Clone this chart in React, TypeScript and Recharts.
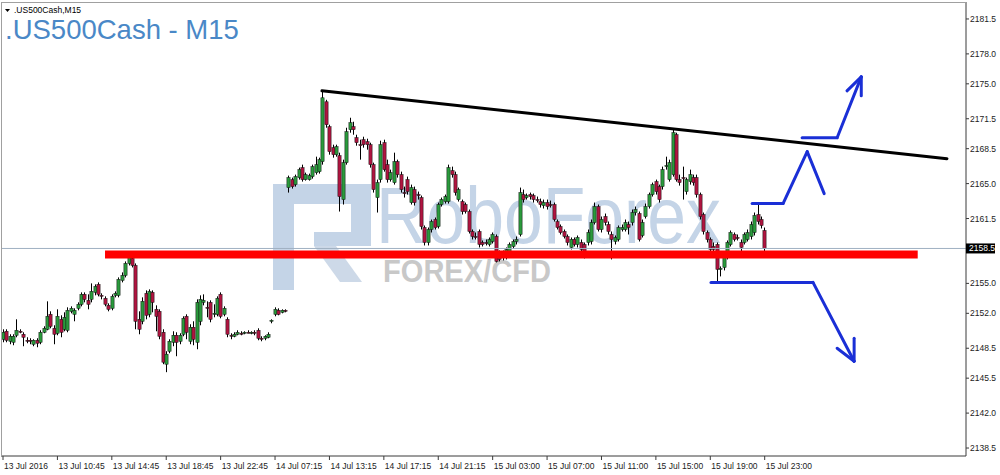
import { Bar, ComposedChart, ReferenceLine, XAxis, YAxis } from "recharts";

type Ohlc = [number, number, number, number]; // open, high, low, close

// 13 Jul 2016 session (M15 bars)
const jul13: Ohlc[] = [
  [2149.4, 2150.4, 2149.1, 2150.1], [2150.2, 2150.4, 2149.1, 2149.3], [2149.2, 2149.9, 2148.9, 2149.7],
  [2149.1, 2149.9, 2148.8, 2149.7], [2149.8, 2151.4, 2149.6, 2150.3], [2150.2, 2150.4, 2150.0, 2150.1],
  [2149.9, 2150.1, 2148.7, 2149.6], [2149.3, 2149.6, 2149.0, 2149.2], [2149.3, 2149.5, 2148.9, 2149.2],
  [2148.9, 2149.4, 2148.7, 2149.3], [2149.3, 2149.5, 2148.6, 2149.0], [2149.1, 2150.3, 2148.9, 2150.1],
  [2150.1, 2150.7, 2150.0, 2150.5], [2150.4, 2153.2, 2150.3, 2151.7], [2151.9, 2152.2, 2150.5, 2150.7],
  [2150.5, 2150.8, 2148.9, 2149.9], [2150.0, 2152.4, 2149.8, 2151.7], [2151.4, 2151.8, 2149.6, 2150.1],
  [2150.4, 2152.1, 2150.2, 2151.6], [2150.3, 2152.6, 2150.1, 2152.3], [2152.2, 2152.7, 2152.0, 2152.5],
  [2151.9, 2152.5, 2151.2, 2152.3], [2152.5, 2153.1, 2152.3, 2152.9], [2152.9, 2154.1, 2152.7, 2153.9],
  [2153.9, 2154.1, 2153.1, 2153.4], [2153.3, 2153.9, 2152.4, 2152.9], [2153.4, 2155.0, 2153.1, 2154.2],
  [2154.1, 2154.9, 2153.8, 2154.7], [2154.9, 2155.1, 2153.7, 2153.9], [2153.8, 2154.0, 2153.4, 2153.7],
  [2153.5, 2153.7, 2152.7, 2152.9], [2152.8, 2153.0, 2152.2, 2152.4], [2152.5, 2153.9, 2152.3, 2153.7],
  [2153.8, 2154.2, 2153.6, 2154.0], [2153.8, 2155.6, 2153.6, 2155.4], [2155.3, 2156.1, 2155.1, 2155.8],
  [2155.8, 2157.2, 2155.6, 2157.0], [2157.0, 2158.1, 2156.8, 2157.6], [2157.5, 2157.8, 2156.6, 2156.8],
  [2156.8, 2157.0, 2150.4, 2151.2], [2151.4, 2152.2, 2149.9, 2150.4], [2151.2, 2153.6, 2150.9, 2153.2],
  [2154.0, 2154.3, 2151.4, 2151.8], [2151.9, 2154.4, 2151.6, 2154.2], [2154.1, 2154.3, 2152.1, 2153.1],
  [2152.4, 2152.8, 2150.2, 2151.7], [2152.2, 2152.4, 2149.4, 2149.7], [2150.1, 2150.4, 2146.9, 2147.1],
  [2146.9, 2148.2, 2146.1, 2147.9], [2148.2, 2149.4, 2148.0, 2149.2], [2149.1, 2150.2, 2148.7, 2149.8],
  [2149.8, 2150.1, 2147.7, 2149.1], [2149.2, 2150.0, 2148.9, 2149.8], [2149.9, 2151.7, 2149.7, 2151.5],
  [2151.7, 2151.9, 2149.4, 2150.1], [2149.2, 2150.9, 2148.9, 2150.6], [2150.6, 2151.2, 2148.8, 2149.4],
  [2149.1, 2153.4, 2148.4, 2153.1], [2151.2, 2153.8, 2150.8, 2153.4], [2153.1, 2153.9, 2152.8, 2153.3],
  [2152.6, 2153.2, 2151.6, 2152.5], [2153.1, 2153.3, 2151.1, 2151.4], [2151.9, 2152.9, 2151.6, 2152.0],
  [2151.9, 2153.7, 2151.7, 2153.5], [2153.9, 2154.1, 2151.5, 2151.7], [2151.9, 2152.7, 2151.7, 2152.5],
  [2151.4, 2151.6, 2149.6, 2149.9],
];

// 14 Jul 2016 session
const jul14: Ohlc[] = [
  [2149.8, 2150.0, 2149.4, 2149.7], [2149.7, 2150.1, 2149.6, 2149.9], [2149.9, 2150.3, 2149.8, 2150.1],
  [2150.0, 2150.2, 2149.8, 2149.9], [2150.0, 2150.2, 2149.9, 2150.1], [2150.1, 2150.3, 2150.0, 2150.0],
  [2150.0, 2150.2, 2149.9, 2150.1], [2150.1, 2150.3, 2149.8, 2150.0], [2150.3, 2150.5, 2149.3, 2149.5],
  [2149.5, 2149.7, 2149.2, 2149.4], [2149.5, 2149.8, 2149.3, 2149.7], [2149.6, 2150.1, 2149.5, 2149.9],
  [2151.2, 2151.4, 2151.0, 2151.3], [2151.9, 2152.6, 2151.7, 2152.4], [2152.3, 2152.5, 2151.8, 2151.9],
  [2152.1, 2152.4, 2152.0, 2152.3], [2152.3, 2152.4, 2152.1, 2152.2],
  [2164.6, 2165.8, 2164.1, 2165.6], [2165.4, 2165.6, 2164.5, 2164.7], [2164.9, 2165.9, 2164.7, 2165.7],
  [2165.6, 2166.6, 2165.4, 2166.4], [2166.6, 2166.9, 2165.2, 2165.4], [2165.4, 2166.1, 2165.3, 2165.9],
  [2165.4, 2166.0, 2165.3, 2165.8], [2165.7, 2166.9, 2165.5, 2166.7], [2166.1, 2167.7, 2165.9, 2166.9],
  [2166.2, 2167.6, 2166.0, 2167.4], [2167.2, 2174.2, 2166.9, 2173.6], [2173.2, 2173.4, 2170.6, 2170.9],
  [2170.7, 2170.9, 2167.9, 2168.2], [2168.6, 2168.9, 2167.6, 2167.9], [2167.9, 2168.9, 2167.7, 2168.7],
  [2167.8, 2168.1, 2162.2, 2163.7], [2163.4, 2167.4, 2162.9, 2167.1], [2167.1, 2170.6, 2166.9, 2170.2],
  [2170.4, 2171.6, 2170.1, 2171.1], [2170.7, 2171.2, 2169.9, 2170.4], [2169.6, 2169.9, 2168.8, 2169.1],
  [2168.9, 2169.4, 2167.4, 2168.8], [2169.4, 2169.7, 2168.6, 2168.9], [2169.2, 2169.5, 2168.4, 2168.9],
  [2168.9, 2169.1, 2166.6, 2166.9], [2166.9, 2167.1, 2164.1, 2164.4], [2163.6, 2165.4, 2162.1, 2165.1],
  [2165.4, 2169.3, 2165.1, 2168.9], [2169.1, 2169.4, 2166.2, 2166.4], [2166.9, 2167.4, 2165.1, 2165.4],
  [2165.4, 2166.4, 2165.2, 2166.1], [2165.1, 2168.1, 2164.9, 2167.2], [2167.2, 2167.4, 2165.6, 2165.9],
  [2165.9, 2166.2, 2164.1, 2164.4], [2164.1, 2164.7, 2163.6, 2164.0], [2165.4, 2165.7, 2163.9, 2164.2],
  [2163.1, 2164.9, 2162.9, 2164.6], [2164.4, 2164.7, 2162.8, 2163.1], [2163.9, 2164.2, 2163.4, 2163.8],
  [2163.6, 2163.8, 2160.4, 2160.7], [2160.6, 2160.8, 2158.8, 2159.1], [2159.1, 2160.6, 2158.8, 2160.4],
  [2160.4, 2161.4, 2160.1, 2161.2], [2161.4, 2161.6, 2160.4, 2160.6], [2160.7, 2163.1, 2160.5, 2162.9],
  [2162.9, 2163.6, 2162.7, 2163.4], [2163.2, 2163.9, 2163.0, 2163.7], [2163.2, 2166.9, 2163.0, 2166.6],
  [2166.3, 2166.7, 2165.6, 2165.9], [2165.9, 2166.2, 2163.8, 2164.1], [2163.4, 2164.6, 2163.2, 2164.4],
  [2163.2, 2163.4, 2161.9, 2162.2], [2162.9, 2163.1, 2162.0, 2162.2],
];

// 15 Jul 2016 session
const jul15: Ohlc[] = [
  [2162.2, 2162.4, 2160.0, 2160.2], [2160.2, 2160.4, 2159.4, 2159.7], [2159.7, 2160.1, 2159.4, 2159.6],
  [2160.2, 2160.4, 2158.6, 2158.9], [2159.1, 2159.3, 2158.7, 2158.9], [2159.1, 2159.4, 2158.8, 2159.0],
  [2158.9, 2159.6, 2158.7, 2159.4], [2159.2, 2160.1, 2159.0, 2159.9], [2159.7, 2159.9, 2157.1, 2157.2],
  [2158.1, 2158.3, 2157.2, 2157.4], [2157.6, 2158.3, 2157.3, 2158.1], [2157.6, 2158.6, 2157.4, 2158.4],
  [2158.2, 2159.1, 2158.0, 2158.9], [2158.7, 2159.4, 2158.5, 2159.2], [2159.2, 2159.7, 2158.9, 2159.4],
  [2159.9, 2164.6, 2159.7, 2164.1], [2163.9, 2164.4, 2163.1, 2163.4], [2163.6, 2164.0, 2163.4, 2163.8],
  [2163.9, 2164.1, 2163.4, 2163.7], [2163.8, 2164.0, 2163.1, 2163.4], [2163.4, 2163.7, 2163.1, 2163.3],
  [2163.2, 2163.5, 2162.6, 2162.9], [2162.8, 2163.4, 2162.5, 2163.1], [2163.1, 2163.4, 2162.4, 2162.7],
  [2162.9, 2163.3, 2162.6, 2162.8], [2162.9, 2163.1, 2161.2, 2161.4], [2161.2, 2161.4, 2160.4, 2160.6],
  [2160.7, 2160.9, 2159.9, 2160.1], [2160.2, 2160.4, 2159.5, 2159.7], [2159.7, 2159.9, 2158.8, 2159.1],
  [2158.6, 2159.6, 2158.4, 2159.4], [2159.4, 2159.6, 2158.7, 2158.9], [2158.9, 2159.8, 2158.6, 2159.6],
  [2159.1, 2159.4, 2158.2, 2158.4], [2158.9, 2159.1, 2157.5, 2157.7], [2159.1, 2160.4, 2158.8, 2160.1],
  [2159.2, 2161.4, 2158.9, 2161.1], [2161.1, 2163.1, 2160.9, 2162.7], [2162.7, 2162.9, 2160.2, 2160.4],
  [2160.4, 2161.7, 2160.1, 2161.4], [2161.7, 2162.0, 2160.8, 2161.1], [2160.9, 2161.2, 2159.9, 2160.2],
  [2159.9, 2160.2, 2157.4, 2159.4], [2159.2, 2159.8, 2158.9, 2159.6], [2159.4, 2160.8, 2159.2, 2160.6],
  [2160.4, 2160.9, 2160.2, 2160.6], [2160.4, 2161.4, 2160.2, 2161.1], [2160.9, 2161.2, 2159.9, 2160.6],
  [2161.1, 2162.4, 2160.8, 2162.1], [2162.1, 2162.7, 2161.8, 2162.4], [2162.0, 2162.2, 2159.2, 2159.4],
  [2159.8, 2161.4, 2159.6, 2161.1], [2161.7, 2163.0, 2161.5, 2162.7], [2162.7, 2164.1, 2162.5, 2163.9],
  [2163.9, 2165.1, 2163.7, 2164.9], [2165.2, 2165.4, 2163.9, 2164.2], [2164.7, 2164.9, 2163.1, 2163.4],
  [2164.7, 2166.7, 2164.4, 2166.4], [2166.7, 2167.7, 2166.4, 2166.8], [2165.4, 2167.4, 2165.2, 2167.1],
  [2165.9, 2170.4, 2165.7, 2170.1], [2169.9, 2170.1, 2165.2, 2165.4], [2165.4, 2165.9, 2164.8, 2165.1],
  [2165.6, 2166.7, 2163.4, 2165.5], [2164.2, 2165.6, 2163.9, 2165.4], [2165.2, 2166.4, 2164.9, 2165.9],
  [2165.6, 2165.9, 2164.8, 2165.1], [2165.6, 2165.9, 2163.6, 2163.9], [2163.9, 2164.1, 2161.4, 2161.7],
  [2161.9, 2162.1, 2159.9, 2160.2], [2160.1, 2160.3, 2159.1, 2159.4], [2159.4, 2159.6, 2158.1, 2158.4],
  [2158.7, 2159.1, 2158.1, 2158.4], [2158.9, 2159.1, 2155.2, 2156.4], [2156.4, 2156.7, 2155.7, 2156.5],
  [2156.6, 2158.1, 2156.3, 2157.9], [2157.7, 2159.3, 2157.4, 2159.1], [2158.9, 2160.3, 2158.7, 2160.1],
  [2159.9, 2160.1, 2159.2, 2159.4], [2159.6, 2159.9, 2159.3, 2159.5], [2159.1, 2159.4, 2157.6, 2158.6],
  [2159.1, 2160.1, 2158.9, 2159.9], [2159.4, 2160.4, 2159.2, 2160.1], [2159.7, 2161.2, 2159.4, 2160.9],
  [2160.1, 2162.1, 2159.8, 2161.8], [2161.9, 2163.0, 2160.9, 2161.2], [2161.4, 2161.7, 2160.5, 2160.8],
  [2160.3, 2160.6, 2157.9, 2158.5],
];

const xTickBars = [0, 16, 32, 48, 64, 80, 96, 112, 128, 144, 160, 176, 192, 208, 224];
const xTickLabels = [
  "13 Jul 2016", "13 Jul 10:45", "13 Jul 14:45", "13 Jul 18:45", "13 Jul 22:45",
  "14 Jul 07:15", "14 Jul 13:15", "14 Jul 17:15", "14 Jul 21:15",
  "15 Jul 03:00", "15 Jul 07:00", "15 Jul 11:00", "15 Jul 15:00", "15 Jul 19:00", "15 Jul 23:00",
];
const yTicks = [2181.5, 2178.0, 2175.0, 2171.5, 2168.5, 2165.0, 2161.5, 2158.5, 2155.0, 2152.0, 2148.5, 2145.5, 2142.0, 2138.5];
const lastPrice = 2158.5;

// hand-drawn analysis objects, in [bar, price]
const supportBand: [number, number][] = [[30, 2157.9], [269, 2157.9]];
const resistanceLine: [number, number][] = [[93.8, 2174.3], [277.6, 2167.5]];
const retestPath: [number, number][] = [[220.3, 2163.0], [229.4, 2163.0], [236.5, 2168.2], [241.5, 2164.0]];
const breakoutPath: [number, number][] = [[235.0, 2169.6], [245.3, 2169.6], [252.4, 2175.7]];
const breakoutHead: [number, number][] = [[248.2, 2174.3], [252.4, 2175.7], [252.4, 2173.8]];
const breakdownPath: [number, number][] = [[208.2, 2155.1], [238.2, 2155.1], [250.3, 2147.2]];
const breakdownHead: [number, number][] = [[245.3, 2148.5], [250.3, 2147.2], [250.3, 2149.5]];

const BULL = "#2a9a3c";
const BEAR = "#b01440";
const ARROW = "#1a2fd6";
const AXIS = "#3a3a3a";
const FONT = "'Liberation Sans', Arial, sans-serif";

const bars = [...jul13, ...jul14, ...jul15].map(([o, h, l, c], i) => ({ i, o, h, l, c, range: [l, h] }));

function Candle(props: any) {
  const { x, y, width, height, payload } = props;
  const { o, h, l, c } = payload;
  const top = Math.min(y, y + height);
  const hh = Math.abs(height);
  const k = hh / (h - l);
  const cx = Math.round(x + width / 2) + 0.5;
  const yO = top + (h - o) * k;
  const yC = top + (h - c) * k;
  const bodyTop = Math.min(yO, yC);
  const bodyH = Math.max(Math.abs(yC - yO), 1);
  return (
    <g>
      <line x1={cx} x2={cx} y1={top} y2={top + hh} stroke="#000" strokeWidth={1} />
      <rect x={cx - 1.6} y={bodyTop} width={3.2} height={bodyH} fill={c >= o ? BULL : BEAR} stroke="#111" strokeWidth={0.5} />
    </g>
  );
}

function TimeTick({ x, y, payload }: any) {
  const idx = xTickBars.indexOf(payload.value);
  return (
    <text x={x + 1} y={y + 9} fontSize={8.5} fill="#222" fontFamily={FONT} textAnchor="start">
      {xTickLabels[idx]}
    </text>
  );
}

function PriceTick({ x, y, payload }: any) {
  const label = payload.value.toFixed(1);
  if (payload.value === lastPrice) {
    return (
      <g>
        <rect x={x - 4} y={y - 5} width={29} height={10} fill="#000" />
        <text x={x - 1} y={y + 3} fontSize={8.5} fill="#fff" fontFamily={FONT}>{label}</text>
      </g>
    );
  }
  return (
    <text x={x} y={y + 3} fontSize={8.5} fill="#222" fontFamily={FONT}>{label}</text>
  );
}

function segments(path: [number, number][], stroke: string, width: number, key: string, cap = "round") {
  return path.slice(1).map((p, n) => (
    <ReferenceLine
      key={`${key}-${n}`}
      segment={[{ x: path[n][0], y: path[n][1] }, { x: p[0], y: p[1] }]}
      stroke={stroke}
      strokeWidth={width}
      strokeLinecap={cap as any}
    />
  ));
}

function Watermark() {
  return (
    <svg width={1000} height={475} style={{ position: "absolute", left: 0, top: 0 }}>
      <g fill="#c4d4e7">
        <path d="M273 184 H371 V246 H314 V232 H351 V204 H294 V290 H273 Z" />
        <path d="M314 246 H336 L362 282 H340 Z" fill="#cdd9e8" />
      </g>
      <text x={376} y={243} fontSize={80} fontFamily={FONT} fill="#c4d4e7" textLength={345} lengthAdjust="spacingAndGlyphs">
        RoboForex
      </text>
      <text x={383} y={282} fontSize={31} fontWeight="bold" fontFamily={FONT} fill="#c8c8c8" textLength={168} lengthAdjust="spacingAndGlyphs">
        FOREX/CFD
      </text>
    </svg>
  );
}

function Overlay() {
  return (
    <svg width={1000} height={475} style={{ position: "absolute", left: 0, top: 0, pointerEvents: "none" }}>
      <line x1={1} x2={966} y1={2.5} y2={2.5} stroke="#a0a0a0" />
      <line x1={1.5} x2={1.5} y1={2} y2={456} stroke="#a0a0a0" />
      <path d="M5 9 H10 L7.5 12 Z" fill="#000" />
      <text x={14} y={13} fontSize={8.5} fontFamily={FONT} fill="#000">.US500Cash,M15</text>
      <text x={5} y={39} fontSize={27.5} fontFamily={FONT} fill="#4a88c7">.US500Cash - M15</text>
    </svg>
  );
}

export default function App() {
  return (
    <div style={{ position: "relative", width: 1000, height: 475, background: "#fff" }}>
      <style>{"body{margin:0}"}</style>
      <Watermark />
      <div style={{ position: "absolute", left: 0, top: 0 }}>
        <ComposedChart width={1000} height={475} data={bars} margin={{ top: 2, right: 0, bottom: 0, left: 1 }}>
          <XAxis
            dataKey="i"
            type="number"
            domain={[-0.59, 283.2]}
            allowDataOverflow
            ticks={xTickBars}
            interval={0}
            tick={<TimeTick />}
            tickSize={4}
            tickMargin={0}
            tickLine={{ stroke: AXIS }}
            axisLine={{ stroke: AXIS }}
            height={19}
          />
          <YAxis
            orientation="right"
            type="number"
            domain={[2137.7, 2183.2]}
            allowDataOverflow
            ticks={yTicks}
            interval={0}
            tick={<PriceTick />}
            tickSize={3}
            tickMargin={1}
            tickLine={{ stroke: AXIS }}
            axisLine={{ stroke: AXIS }}
            width={34}
          />
          <Bar dataKey="range" barSize={3} shape={<Candle />} isAnimationActive={false} />
          <ReferenceLine y={lastPrice} stroke="#9fb0c2" strokeWidth={1} />
          {segments(supportBand, "#ff0000", 8, "support", "butt")}
          {segments(resistanceLine, "#000", 3, "resistance")}
          {segments(retestPath, ARROW, 3, "retest")}
          {segments(breakoutPath, ARROW, 3, "breakout")}
          {segments(breakoutHead, ARROW, 3, "breakout-head")}
          {segments(breakdownPath, ARROW, 3, "breakdown")}
          {segments(breakdownHead, ARROW, 3, "breakdown-head")}
        </ComposedChart>
      </div>
      <Overlay />
    </div>
  );
}
